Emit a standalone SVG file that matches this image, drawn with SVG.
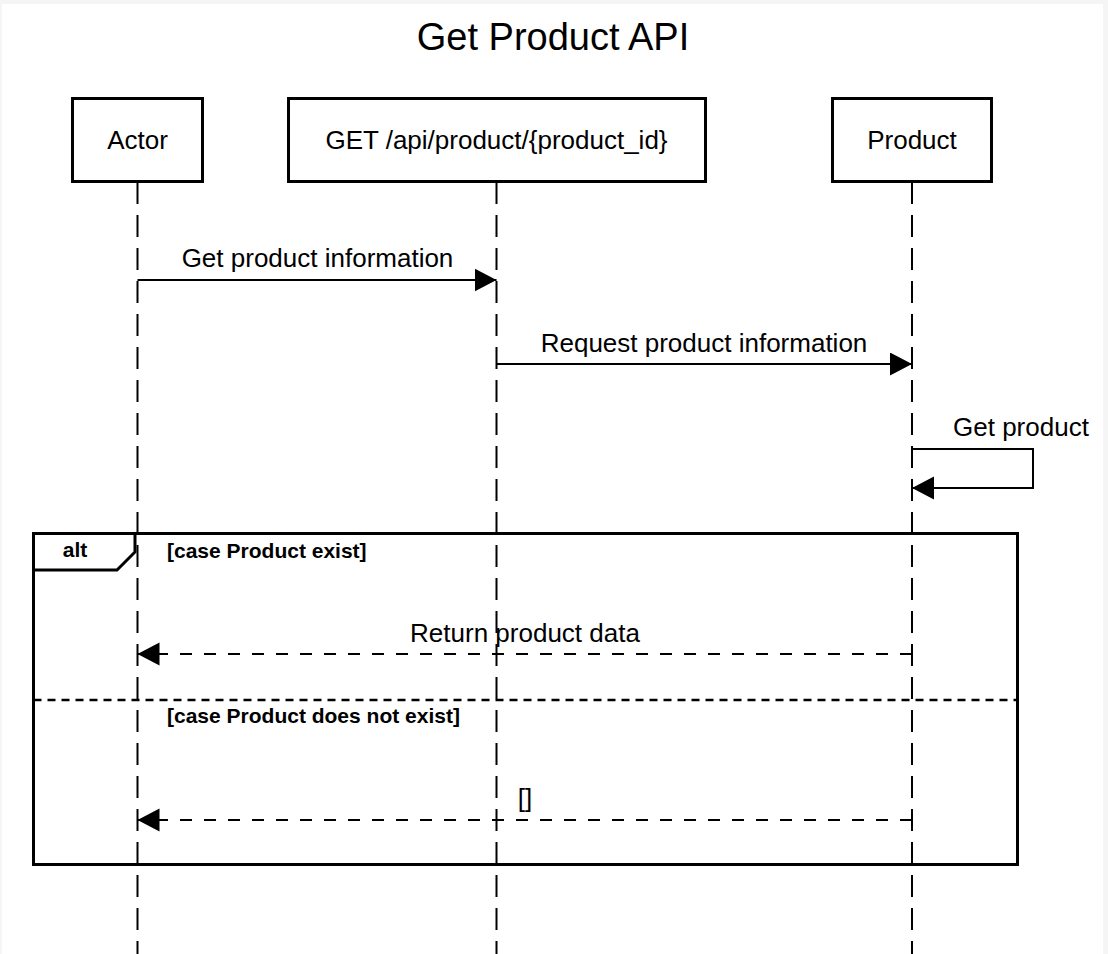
<svg xmlns="http://www.w3.org/2000/svg" width="1108" height="954" viewBox="0 0 1108 954">
<defs>
<style>
.box{fill:#fff;stroke:#000;stroke-width:3}
.t{font-family:"Liberation Sans",Arial,sans-serif;font-size:26px;fill:#000}
.b{font-family:"Liberation Sans",Arial,sans-serif;font-size:21px;font-weight:bold;fill:#000}
.life{stroke:#000;stroke-width:2;stroke-dasharray:22 11;fill:none}
.msg{stroke:#000;stroke-width:2;fill:none;marker-end:url(#arr)}
.ret{stroke:#000;stroke-width:2;fill:none;stroke-dasharray:12 12;marker-end:url(#arr)}
</style>
<marker id="arr" markerUnits="userSpaceOnUse" markerWidth="24" markerHeight="24" refX="22" refY="11.5" orient="auto" viewBox="0 0 24 24">
<path d="M0,0 L22,11.5 L0,23 Z" fill="#000"/>
</marker>
</defs>
<rect x="0" y="0" width="1108" height="954" fill="#f5f5f5"/>
<rect x="2" y="4" width="1101" height="950" fill="#fff"/>
<text x="553" y="50" text-anchor="middle" font-family="Liberation Sans, Arial, sans-serif" font-size="38" fill="#000">Get Product API</text>
<g id="lifelines">
<line class="life" x1="137.5" y1="182" x2="137.5" y2="954"/>
<line class="life" x1="496.5" y1="182" x2="496.5" y2="954"/>
<line class="life" x1="912" y1="182" x2="912" y2="954"/>
</g>
<g id="actor">
<rect class="box" x="72.5" y="98.5" width="130" height="83"/>
<text class="t" x="137.5" y="149" text-anchor="middle">Actor</text>
</g>
<g id="api">
<rect class="box" x="288.5" y="98.5" width="417" height="83"/>
<text class="t" x="496.5" y="149" text-anchor="middle">GET /api/product/{product_id}</text>
</g>
<g id="product">
<rect class="box" x="832.5" y="98.5" width="159" height="83"/>
<text class="t" x="912" y="149" text-anchor="middle">Product</text>
</g>
<g id="alt-frame">
<rect x="33.5" y="533.5" width="984" height="331" fill="none" stroke="#000" stroke-width="3"/>
<path d="M33.5,533.5 H135 V552 L117,570 H33.5" fill="none" stroke="#000" stroke-width="3"/>
<text class="b" x="75" y="557" text-anchor="middle">alt</text>
<text class="b" x="167" y="558">[case Product exist]</text>
<line x1="33.5" y1="700" x2="1017.5" y2="700" stroke="#000" stroke-width="2.5" stroke-dasharray="8 6"/>
<text class="b" x="167" y="723">[case Product does not exist]</text>
</g>
<g id="connectors">
<line class="msg" x1="137.5" y1="280" x2="496.5" y2="280"/>
<text class="t" x="317.5" y="267" text-anchor="middle">Get product information</text>
<line class="msg" x1="496.5" y1="364" x2="912" y2="364"/>
<text class="t" x="704" y="352" text-anchor="middle">Request product information</text>
<path class="msg" d="M912,449 H1033 V488 H912"/>
<text class="t" x="953" y="436">Get product</text>
<line class="ret" x1="912" y1="654" x2="137.5" y2="654"/>
<text class="t" x="525" y="642" text-anchor="middle">Return product data</text>
<line class="ret" x1="912" y1="820" x2="137.5" y2="820"/>
<text class="t" x="525" y="807" text-anchor="middle">[]</text>
</g>
</svg>
